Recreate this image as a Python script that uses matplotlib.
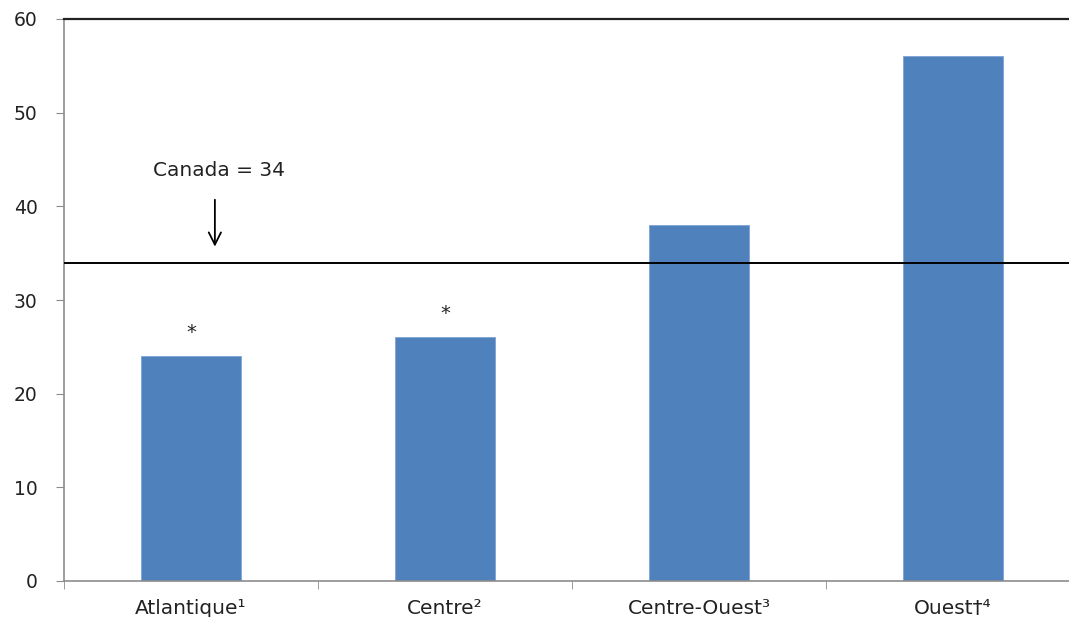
import matplotlib.pyplot as plt
from matplotlib.ticker import FixedLocator

regions = ["Atlantique\u00b9", "Centre\u00b2", "Centre-Ouest\u00b3", "Ouest\u2020\u2074"]
rates = [24, 26, 38, 56]
flagged = [True, True, False, False]
canada = 34
y_ticks = [0, 10, 20, 30, 40, 50, 60]

bar_color = "#4F81BD"
grey = "#8C8C8C"
ink = "#222222"

fig = plt.figure(figsize=(10.69, 6.17), dpi=100)
ax = fig.add_axes([64 / 1069, 36 / 617, 1016 / 1069, 562 / 617])

x = list(range(len(regions)))
ax.bar(x, rates, width=0.39, color=bar_color, edgecolor="#7FA3D6", linewidth=0.6, zorder=2)

# asterisks over the regions that differ significantly from Canada
for xi, val, star in zip(x, rates, flagged):
    if star:
        ax.text(xi, val + 1.5, "*", ha="center", va="bottom", fontsize=14, color=ink)

# national reference line and its annotation
ax.axhline(canada, color="black", linewidth=1.4, zorder=3)
ax.annotate("", xy=(0.094, canada + 1.4), xytext=(0.094, 41.0),
            arrowprops=dict(arrowstyle="->", color="black", linewidth=1.3,
                            mutation_scale=22))
ax.text(0.11, 43.8, "Canada = 34", ha="center", va="center", fontsize=14.5,
        color=ink)

ax.set_xlim(-0.5, 3.5)
ax.set_ylim(0, 60)
ax.set_yticks(y_ticks)
ax.set_xticks(x)
ax.set_xticklabels(regions, fontsize=14.5, color=ink)
ax.xaxis.set_minor_locator(FixedLocator([-0.5, 0.5, 1.5, 2.5, 3.5]))
ax.tick_params(axis="x", which="major", length=0, pad=13)
ax.tick_params(axis="x", which="minor", length=6, color=grey, direction="out")
ax.tick_params(axis="y", length=6, color=grey, pad=13, labelsize=13.5, labelcolor=ink)

for side in ["left", "bottom"]:
    ax.spines[side].set_color(grey)
    ax.spines[side].set_linewidth(1.2)
ax.spines["top"].set_color(ink)
ax.spines["top"].set_linewidth(1.6)
ax.spines["right"].set_visible(False)

fig.savefig("out.png", dpi=100)
